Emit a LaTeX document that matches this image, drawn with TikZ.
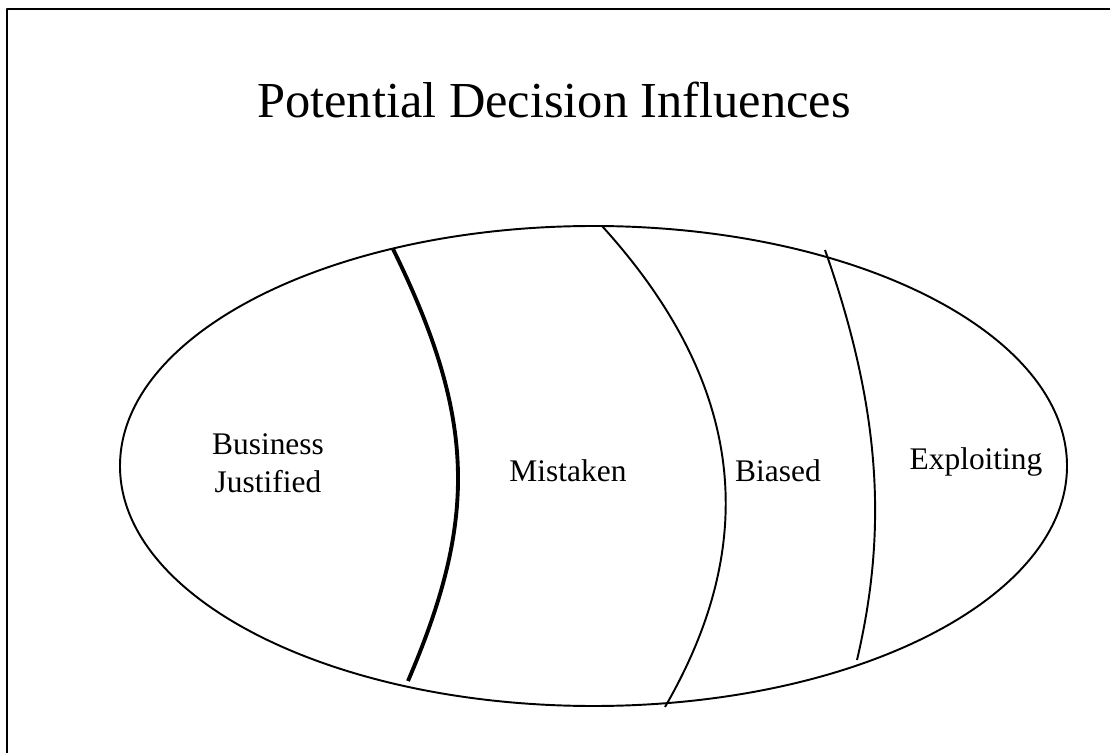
\documentclass[tikz,border=0pt]{standalone}
\usepackage{fontspec}
\setmainfont{Liberation Serif}
\usepackage{tikz}

\begin{document}
\begin{tikzpicture}[x=0.02cm,y=-0.02cm,line join=round]

    \useasboundingbox (0,0) rectangle (1110,753);
    \draw [line width=1.1pt] (7,760) -- (7,9) -- (1120,9);

    \node (t) at (554,100) {\fontsize{28.7}{34}\selectfont Potential Decision Influences};

    \draw [line width=1.1pt] (593.5,466) ellipse [x radius=473.5, y radius=240];

    \coordinate (a1) at (393,249);
    \coordinate (a2) at (408,681);
    \coordinate (b1) at (602,226);
    \coordinate (b2) at (665,707);
    \coordinate (c1) at (825,250);
    \coordinate (c2) at (857,660);

    \draw [line width=2.2pt] (a1) .. controls (477,420) and (477,520) .. (a2);
    \draw [line width=1.1pt] (b1) .. controls (760,400) and (750,560) .. (b2);
    \draw [line width=1.1pt] (c1) .. controls (885,420) and (885,540) .. (c2);

    \node (d) at (268,466) {\fontsize{17.9}{21.5}\selectfont\begin{tabular}{@{}c@{}}Business\\Justified\end{tabular}};
    \node (e) at (568,471) {\fontsize{17.9}{21.5}\selectfont Mistaken};
    \node (f) at (778,471) {\fontsize{17.9}{21.5}\selectfont Biased};
    \node (g) at (976,462) {\fontsize{17.9}{21.5}\selectfont Exploiting};

  \end{tikzpicture}
\end{document}
